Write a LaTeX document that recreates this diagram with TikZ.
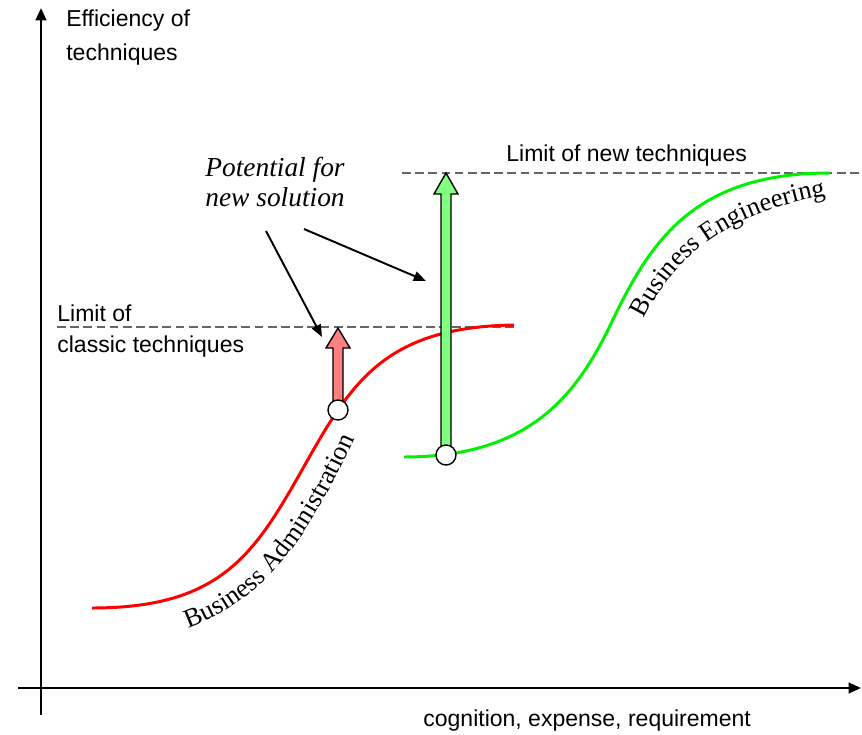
\documentclass[tikz,border=0pt]{standalone}
\usepackage{fontspec}
\setmainfont{Liberation Sans}
\newfontfamily\kurvenschrift{Liberation Serif}
\usetikzlibrary{arrows.meta,decorations.text}
\definecolor{rot}{rgb}{1,0,0}
\definecolor{rotHell}{rgb}{1,0.5,0.5}
\definecolor{gruen}{rgb}{0,0.95,0}
\definecolor{gruenHell}{rgb}{0.5,1,0.5}
\definecolor{grau}{rgb}{0.4,0.4,0.4}
\tikzstyle{axis} = [line width=1.4pt,-{Triangle[length=7pt,width=6pt]}]
\tikzstyle{limit} = [draw=grau,line width=0.6pt,dash pattern=on 5pt off 2.5pt]
\tikzstyle{kurve} = [line width=1.7pt]
\tikzstyle{pointer} = [line width=1.1pt,-{Triangle[length=7pt,width=5.5pt]}]
\tikzstyle{bar} = [draw=black,line width=0.8pt,line join=miter]
\tikzstyle{dot} = [circle,draw=black,fill=white,line width=0.8pt,minimum size=0.4cm,inner sep=0pt]
\tikzstyle{axtext} = [anchor=base west,inner sep=0pt,font=\fontsize{13.1}{16}\selectfont]

\begin{document}
\begin{tikzpicture}[x=0.02cm,y=-0.02cm]
\useasboundingbox (0,0) rectangle (862,734);

\coordinate (yfoot) at (41,715);
\coordinate (ytip) at (41,8);
\coordinate (xfoot) at (18,688);
\coordinate (xtip) at (861,688);
\draw[axis] (yfoot) -- (ytip);
\draw[axis] (xfoot) -- (xtip);

\node[axtext] (eff1) at (66,26) {Efficiency of};
\node[axtext] (eff2) at (66,60) {techniques};
\node[axtext] (cog) at (423,726) {cognition, expense, requirement};
\node[axtext] (lim1) at (57,321) {Limit of};
\node[axtext] (lim2) at (57,352) {classic techniques};
\node[axtext] (limnew) at (506,161) {Limit of new techniques};

\coordinate (la) at (57,327);
\coordinate (lb) at (514,327);
\coordinate (na) at (402,173);
\coordinate (nb) at (862,173);
\draw[limit] (la) -- (lb);
\draw[limit] (na) -- (nb);

\draw[kurve,draw=rot] (92,608) .. controls (220,608) and (254,555) .. (302,470) .. controls (350,385) and (382,327) .. (514,325);
\draw[kurve,draw=gruen] (404,457) .. controls (530,457) and (575,395) .. (608,330) .. controls (648,245) and (690,173) .. (830,173);

\path[decorate,decoration={text along path,text={|\kurvenschrift\fontsize{15}{18}\selectfont|Business Administration}}] (188,628) .. controls (252,604) and (302,560) .. (362,422);
\path[decorate,decoration={text along path,text={|\kurvenschrift\fontsize{15}{18}\selectfont|Business Engineering}}] (644,319) .. controls (672,262) and (722,210) .. (842,193);

\draw[bar,fill=rotHell] (333,410) -- (333,348) -- (326,348) -- (338,328) -- (350,348) -- (343,348) -- (343,410) -- cycle;
\draw[bar,fill=gruenHell] (441,455) -- (441,194) -- (434,194) -- (446,173) -- (458,194) -- (451,194) -- (451,455) -- cycle;

\node[dot] (ba) at (338,410) {};
\node[dot] (be) at (446,455) {};

\node[anchor=north,align=center,inner sep=0pt,font=\kurvenschrift\itshape\fontsize{15.6}{17}\selectfont] (pot) at (275,157) {Potential for\\new solution};

\coordinate (p1s) at (266,231);
\coordinate (p1e) at (322,337);
\coordinate (p2s) at (304,229);
\coordinate (p2e) at (426,281);
\draw[pointer] (p1s) -- (p1e);
\draw[pointer] (p2s) -- (p2e);
\end{tikzpicture}
\end{document}
